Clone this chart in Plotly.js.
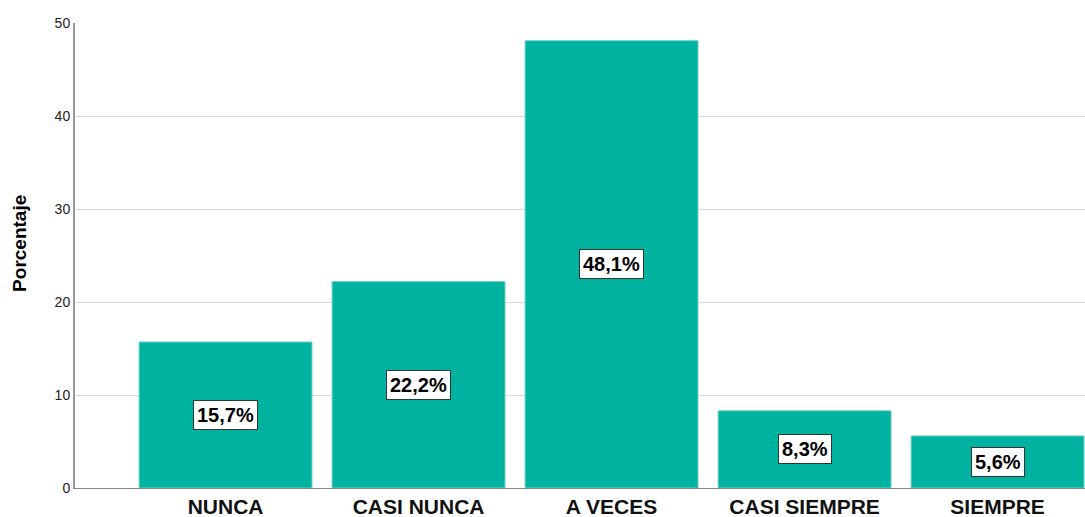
<!DOCTYPE html>
<html>
<head>
<meta charset="utf-8">
<script src="https://cdn.plot.ly/plotly-3.0.1.min.js"></script>
<style>html,body{margin:0;padding:0;background:#fff;}#chart{width:1085px;height:517px;}</style>
</head>
<body>
<div id="chart"></div>
<script>
const categories = ["NUNCA", "CASI NUNCA", "A VECES", "CASI SIEMPRE", "SIEMPRE"];
const percentages = [15.7, 22.2, 48.1, 8.3, 5.6];
const yTicks = [0, 10, 20, 30, 40, 50];
const yTitle = "Porcentaje";

const fmt = v => v.toFixed(1).replace('.', ',') + '%';

const trace = {
  type: 'bar',
  x: categories,
  y: percentages,
  width: 0.896,
  marker: {color: '#00B2A0', line: {color: '#6fd3c8', width: 1}},
  hoverinfo: 'x+y'
};

const annotations = categories.map((c, i) => ({
  x: c, y: percentages[i] / 2, xref: 'x', yref: 'y',
  text: '<b>' + fmt(percentages[i]) + '</b>',
  showarrow: false,
  font: {family: 'Liberation Sans, Arial, sans-serif', size: 20, color: '#000'},
  bgcolor: '#ffffff', bordercolor: '#333333', borderwidth: 1, borderpad: 3
}));

annotations.push({
  xref: 'paper', yref: 'paper', x: -0.0545, y: 0.527,
  xanchor: 'center', yanchor: 'middle',
  text: '<b>' + yTitle + '</b>', textangle: -90, showarrow: false,
  font: {family: 'Liberation Sans, Arial, sans-serif', size: 19, color: '#000'}
});

const layout = {
  width: 1085, height: 517,
  margin: {l: 75, r: 0, t: 23, b: 29},
  paper_bgcolor: '#fff', plot_bgcolor: '#fff',
  showlegend: false,
  bargap: 0,
  font: {family: 'Liberation Sans, Arial, sans-serif', color: '#222'},
  xaxis: {
    type: 'category',
    range: [-0.78, 4.453],
    showgrid: false,
    showline: true, linecolor: '#888', linewidth: 1,
    ticks: '', tickfont: {size: 21, color: '#111', weight: 'bold'},
    fixedrange: true
  },
  yaxis: {
    range: [0, 50],
    tickvals: yTicks,
    ticktext: yTicks.map(String),
    showgrid: true, gridcolor: '#d9d9d9', gridwidth: 1,
    showline: true, linecolor: '#999', linewidth: 2,
    zeroline: false,
    ticks: '', ticklen: 0,
    tickfont: {size: 14, color: '#222'},
    fixedrange: true
  },
  annotations: annotations
};

Plotly.newPlot('chart', [trace], layout, {displayModeBar: false, staticPlot: true});
</script>
</body>
</html>
